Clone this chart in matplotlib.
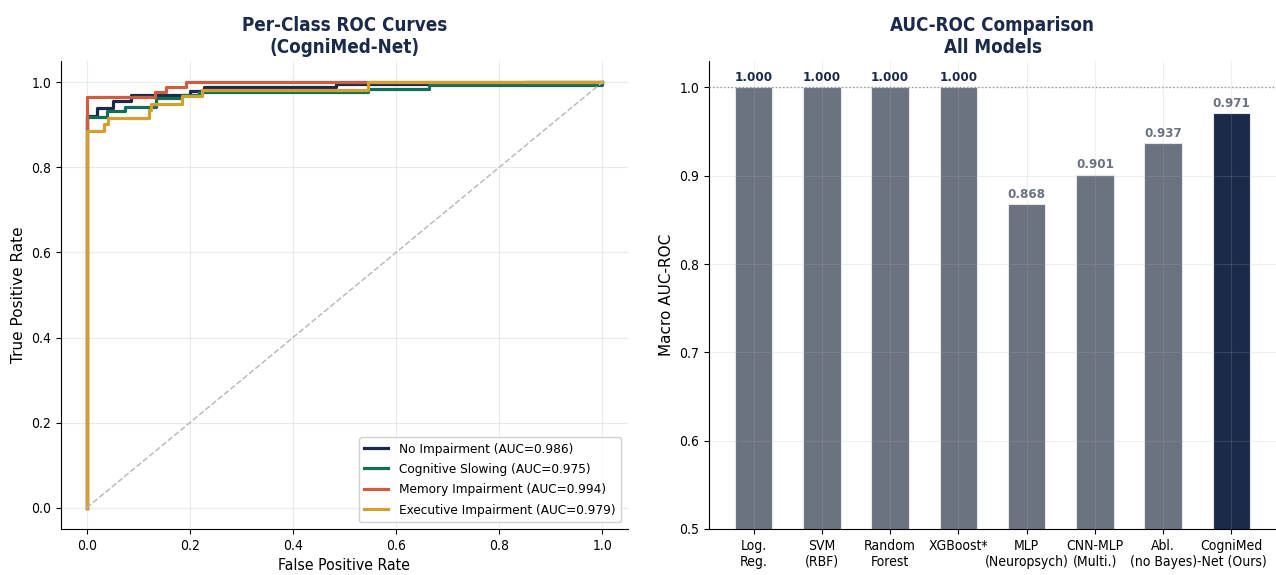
import matplotlib
matplotlib.use("Agg")
import matplotlib.pyplot as plt

plt.rcParams["font.family"] = ["DejaVu Sans"]
plt.rcParams["font.stretch"] = "condensed"

NAVY = "#1b2a4a"
GREY = "#6b7280"

# ROC curve vertices per class (fpr, tpr)
no_imp_fpr = [0, 0, 0.02, 0.02, 0.05, 0.05, 0.085, 0.085, 0.2, 0.2, 0.227, 0.227, 0.483, 0.483, 0.85, 0.85, 1.0]
no_imp_tpr = [0, 0.92, 0.92, 0.94, 0.94, 0.955, 0.955, 0.97, 0.97, 0.98, 0.98, 0.99, 0.99, 0.995, 0.995, 1.0, 1.0]

cog_slow_fpr = [0, 0, 0.04, 0.04, 0.075, 0.075, 0.135, 0.135, 0.185, 0.185, 0.217, 0.217, 0.545, 0.545, 0.664, 0.664, 1.0, 1.0]
cog_slow_tpr = [0, 0.918, 0.918, 0.932, 0.932, 0.942, 0.942, 0.962, 0.962, 0.97, 0.97, 0.978, 0.978, 0.985, 0.985, 0.993, 0.993, 1.0]

memory_fpr = [0, 0, 0.133, 0.133, 0.153, 0.153, 0.192, 0.192, 1.0]
memory_tpr = [0, 0.965, 0.965, 0.977, 0.977, 0.988, 0.988, 1.0, 1.0]

exec_fpr = [0, 0, 0.033, 0.033, 0.041, 0.041, 0.12, 0.12, 0.125, 0.125, 0.185, 0.185, 0.224, 0.224, 0.545, 0.545, 1.0]
exec_tpr = [0, 0.885, 0.885, 0.901, 0.901, 0.917, 0.917, 0.936, 0.936, 0.95, 0.95, 0.968, 0.968, 0.983, 0.983, 1.0, 1.0]

class_names = ["No Impairment", "Cognitive Slowing", "Memory Impairment", "Executive Impairment"]
class_auc = [0.986, 0.975, 0.994, 0.979]
class_colors = [NAVY, "#146e55", "#cf5c3c", "#d2a030"]

# Macro AUC-ROC per model
models = ["Log.\nReg.", "SVM\n(RBF)", "Random\nForest", "XGBoost*", "MLP\n(Neuropsych)",
          "CNN-MLP\n(Multi.)", "Abl.\n(no Bayes)", "CogniMed\n-Net (Ours)"]
model_auc = [1.000, 1.000, 1.000, 1.000, 0.868, 0.901, 0.937, 0.971]

W, H = 1276, 575
fig = plt.figure(figsize=(W / 100, H / 100), dpi=100)
ax1 = fig.add_axes([61 / W, 46 / H, 567 / W, 468 / H])
ax2 = fig.add_axes([709 / W, 46 / H, 567 / W, 468 / H])

# ---- Left panel: per-class ROC ----
curves = [(no_imp_fpr, no_imp_tpr), (cog_slow_fpr, cog_slow_tpr),
          (memory_fpr, memory_tpr), (exec_fpr, exec_tpr)]
for (fx, ty), name, auc, col in zip(curves, class_names, class_auc, class_colors):
    ax1.plot(fx, ty, color=col, lw=2.3, label=f"{name} (AUC={auc:.3f})")
ax1.plot([0, 1], [0, 1], ls="--", color="#bbbbbb", lw=1.1)
ax1.set_xlabel("False Positive Rate", fontsize=11.3)
ax1.set_ylabel("True Positive Rate", fontsize=11, fontstretch="normal")
ax1.set_title("Per-Class ROC Curves\n(CogniMed-Net)", fontsize=13.5, fontweight="bold", color=NAVY)
ax1.legend(loc="lower right", fontsize=9.7, framealpha=0.9, handlelength=1.8, labelspacing=0.55)
ax1.grid(True, alpha=0.25)
ax1.tick_params(labelsize=10)
for s in ("top", "right"):
    ax1.spines[s].set_visible(False)

# ---- Right panel: AUC comparison ----
bar_colors = [GREY] * (len(models) - 1) + [NAVY]
x = range(len(models))
ax2.set_axisbelow(False)
bars = ax2.bar(x, model_auc, width=0.55, color=bar_colors,
               edgecolor="#e5e7eb", linewidth=0.8, zorder=1)
ax2.set_ylim(0.5, 1.03)
ax2.axhline(1.0, color="#999999", ls=":", lw=1.0, zorder=3)
for b, v in zip(bars, model_auc):
    lc = NAVY if v >= 0.999 else GREY
    ax2.text(b.get_x() + b.get_width() / 2, v + 0.004, f"{v:.3f}", ha="center", va="bottom",
             fontsize=9.5, fontweight="bold", color=lc)
ax2.set_xticks(list(x))
ax2.set_xticklabels(models, fontsize=10)
ax2.set_ylabel("Macro AUC-ROC", fontsize=11, fontstretch="normal")
ax2.set_title("AUC-ROC Comparison\nAll Models", fontsize=13.5, fontweight="bold", color=NAVY)
ax2.grid(True, alpha=0.2, zorder=2)
ax2.tick_params(labelsize=10)
for s in ("top", "right"):
    ax2.spines[s].set_visible(False)

fig.savefig("out.png", dpi=100)
